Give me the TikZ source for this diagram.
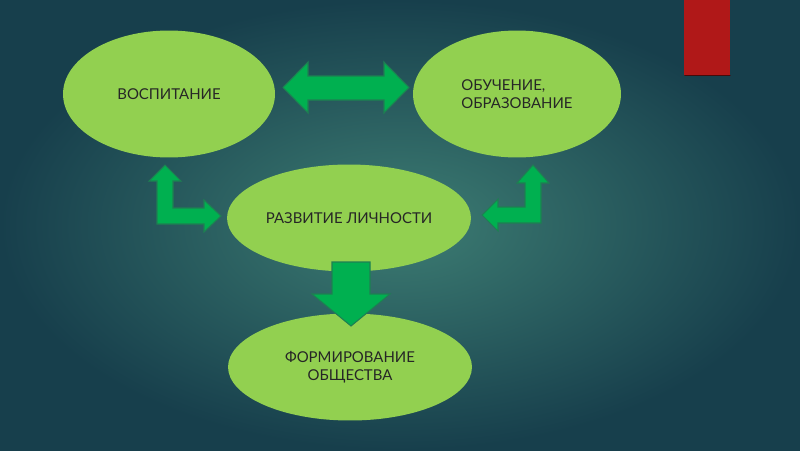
\documentclass[tikz,border=0pt]{standalone}
\usepackage{fontspec}
\setmainfont{Lato}
\usetikzlibrary{shapes.geometric}
\definecolor{bgin}{HTML}{3D7D73}
\definecolor{bgout}{HTML}{173F4C}
\definecolor{leaf}{HTML}{92D050}
\definecolor{arrowgreen}{HTML}{00B050}
\definecolor{arrowline}{HTML}{1E7F52}
\definecolor{tabred}{HTML}{B01818}
\tikzset{
  every picture/.style={line join=round, line cap=round},
  bubble/.style={ellipse, fill=leaf, draw=none, inner sep=0pt, text=black!85,
    font=\fontsize{8.5}{10.5}\selectfont},
  blockarrow/.style={fill=arrowgreen, draw=arrowline, line width=0.6pt, line join=miter},
}

\begin{document}
\begin{tikzpicture}[x=0.02cm,y=-0.02cm]
\shade[inner color=bgin, outer color=bgout](0,0) rectangle (800,450);
\useasboundingbox (0,0) rectangle (800,450);
\fill[tabred](684,0) rectangle (730,75);
\draw[tabred!40!black, line width=0.8pt](685,75.5)--(730,75.5);
% ellipses
\node[bubble, minimum width=4.24cm, minimum height=2.54cm] (vosp) at (169,94) {ВОСПИТАНИЕ};
\node[bubble, minimum width=4.16cm, minimum height=2.54cm, align=left] (obuch) at (517,94) {ОБУЧЕНИЕ,\\ОБРАЗОВАНИЕ};
\node[bubble, minimum width=4.88cm, minimum height=2.14cm] (razv) at (349,218) {РАЗВИТИЕ ЛИЧНОСТИ};
\node[bubble, minimum width=4.88cm, minimum height=2.14cm, align=center] (form) at (350,367) {ФОРМИРОВАНИЕ\\ОБЩЕСТВА};
% arrows
\draw[blockarrow](283,87.5)--(308,62)--(308,76)--(384,76)--(384,62)--(409,87.5)--(384,113)--(384,100)--(308,100)--(308,113)--cycle;
\draw[blockarrow](165,165)--(181,181)--(173,181)--(173,208)--(204,208)--(204,200)--(221,216)--(204,232)--(204,224)--(157,224)--(157,181)--(149,181)--cycle;
\draw[blockarrow](533,165)--(549,183)--(541,183)--(541,223)--(498,223)--(498,231)--(482,215)--(498,199)--(498,207)--(525,207)--(525,183)--(517,183)--cycle;
\draw[blockarrow](332,262)--(370,262)--(370,294)--(390,294)--(351,326)--(312,294)--(332,294)--cycle;
\end{tikzpicture}
\end{document}
